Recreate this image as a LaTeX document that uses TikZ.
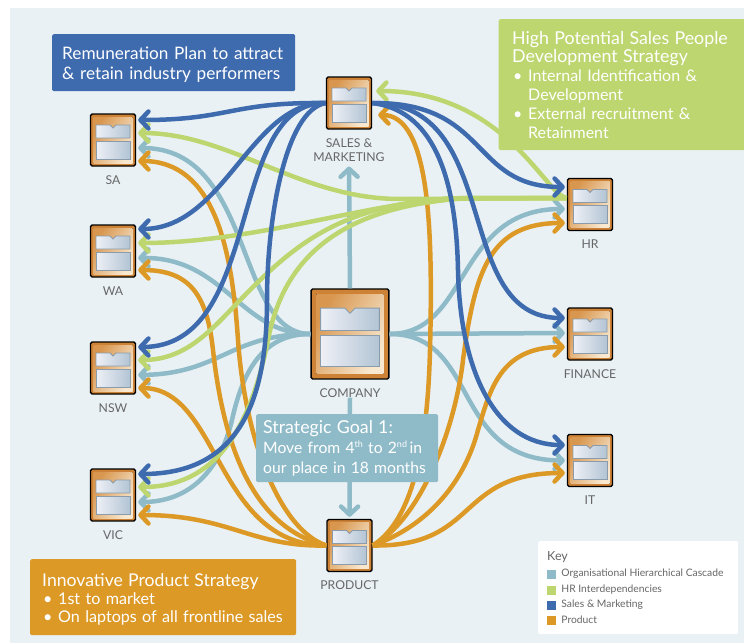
\documentclass[tikz,border=0pt]{standalone}
\usepackage{fontspec}
\setmainfont{Lato}
\usetikzlibrary{arrows.meta,positioning}
\definecolor{paneback}{HTML}{E9F1F5}
\definecolor{cascadecol}{HTML}{8FBBC9}
\definecolor{hrcol}{HTML}{BDD66F}
\definecolor{salescol}{HTML}{3E6AAE}
\definecolor{prodcol}{HTML}{DC9926}
\definecolor{labelcol}{HTML}{666666}
\definecolor{unitedge}{HTML}{CE8236}
\definecolor{glowa}{HTML}{D8964E}
\definecolor{glowb}{HTML}{F8E8D0}
\definecolor{panea}{HTML}{EEF0F6}
\definecolor{paneb}{HTML}{B3C4D4}
\definecolor{panerim}{HTML}{8A9CAB}
\tikzset{
  link/.style={line width=4.5pt,line cap=butt,shorten >=2pt,
    -{Straight Barb[length=8pt,width=17pt,round]}},
  cascade/.style={link,draw=cascadecol},
  hrlink/.style={link,draw=hrcol},
  saleslink/.style={link,draw=salescol},
  prodlink/.style={link,draw=prodcol},
  unitnode/.style={draw=black,line width=1.4pt,rounded corners=1.6pt,fill=unitedge,inner sep=0pt},
  unitglow/.style={left color=glowa,right color=glowb,shading angle=60},
  unitpane/.style={draw=panerim,line width=0.9pt,left color=panea,right color=paneb},
  unitlabel/.style={font=\fontsize{12.2}{14}\selectfont,text=labelcol,align=center,inner sep=0pt},
  notebox/.style={rounded corners=1.5pt,text=white,align=left,anchor=north west,inner ysep=0pt},
  keytext/.style={font=\fontsize{10.3}{11}\selectfont,text=labelcol,inner sep=0pt,anchor=west},
}
\newcommand{\unitbox}[5]{%
  \node[unitnode,minimum width=#4*45pt,minimum height=#4*52pt] (#1) at (#2,#3) {};
  \begin{scope}[shift={(#2,#3)},scale=#4]
    \fill[unitglow] (-19.5,-23) rectangle (19.5,23);
    \path[unitpane] (-17,-15) -- (-3,-15) -- (0,-12) -- (3,-15) -- (17,-15) -- (17,-2) -- (-17,-2) -- cycle;
    \path[unitpane] (-17,1) rectangle (17,19);
  \end{scope}
  \node[unitlabel,below=8.5pt of #1] (#1-label) {#5};
}
\newcommand{\bul}{\\\makebox[16pt][l]{\hspace{1pt}\textbullet}}
\newcommand{\cont}{\\\hspace*{16pt}}
\newcommand{\ordsup}[1]{\raisebox{5.5pt}{\fontsize{9}{9}\selectfont #1}}
\begin{document}
\begin{tikzpicture}[x=1pt,y=-1pt]
  \useasboundingbox (0,0) rectangle (744,643);
  \fill[paneback] (10,8) rectangle (744,643);

  \foreach \id/\px/\py/\txt in {sa/113/140/SA,wa/113/251/WA,nsw/113/368/NSW,vic/113/495/VIC,
      hr/590/204.5/HR,fin/590/334/FINANCE,it/590/460.5/IT,
      sm/349/103/{SALES \&\\MARKETING},prod/349.5/545.5/PRODUCT}
    \unitbox{\id}{\px}{\py}{1}{\txt};
  \unitbox{co}{350}{334}{1.73}{COMPANY};

  \draw[cascade,shorten >=5pt] (co.north) -- (sm-label.south);
  \draw[cascade] (co-label.south) -- (prod.north);
  \draw[cascade] (co.west) .. controls (235,334) and (255,148) .. ([yshift=-8pt]sa.east);
  \draw[cascade] (co.west) .. controls (240,334) and (225,257) .. ([yshift=-7pt]wa.east);
  \draw[cascade] (co.west) .. controls (230,334) and (220,374) .. ([yshift=-7pt]nsw.east);
  \draw[cascade] (co.west) .. controls (270,334) and (245,360) .. (232,420)
    .. controls (220,470) and (190,502) .. ([yshift=-7pt]vic.east);
  \draw[cascade] (co.east) .. controls (470,334) and (455,209) .. ([yshift=-4.5pt]hr.west);
  \draw[cascade] (co.east) -- ([yshift=1pt]fin.west);
  \draw[cascade] (co.east) .. controls (480,334) and (450,460) .. (it.west);

  \draw[prodlink] (prod.west) .. controls (280,530) and (245,440) .. (238,340)
    .. controls (232,250) and (215,161) .. ([yshift=-21pt]sa.east);
  \draw[prodlink] (prod.west) .. controls (260,530) and (225,460) .. (213,350)
    .. controls (207,295) and (190,270) .. ([yshift=-19pt]wa.east);
  \draw[prodlink] (prod.west) .. controls (215,545) and (220,388) .. ([yshift=-20pt]nsw.east);
  \draw[prodlink] (prod.west) .. controls (250,547) and (230,515) .. ([yshift=-20pt]vic.east);
  \draw[prodlink] (prod.east) .. controls (405,525) and (427,470) .. (430,350)
    .. controls (433,230) and (430,115) .. ([yshift=-12pt,xshift=4pt]sm.east);
  \draw[prodlink] (prod.east) .. controls (420,520) and (455,430) .. (463,360)
    .. controls (475,270) and (490,223) .. ([yshift=-18.5pt]hr.west);
  \draw[prodlink] (prod.east) .. controls (430,525) and (465,480) .. (478,430)
    .. controls (490,390) and (500,347) .. ([yshift=-13pt]fin.west);
  \draw[prodlink] (prod.east) .. controls (480,547) and (455,473) .. ([yshift=-12.5pt]it.west);

  \draw[hrlink] ([yshift=6.5pt]hr.west) .. controls (545,195) and (505,91) .. ([yshift=12pt,xshift=2pt]sm.east);
  \draw[hrlink] ([yshift=6.5pt]hr.west) -- (400,199) .. controls (300,199) and (230,133) .. ([yshift=7pt]sa.east);
  \draw[hrlink] ([yshift=6.5pt]hr.west) -- (470,198) .. controls (380,198) and (260,243) .. ([yshift=8pt]wa.east);
  \draw[hrlink] ([yshift=6.5pt]hr.west) -- (470,198) .. controls (350,200) and (300,240) .. (250,290)
    .. controls (215,325) and (190,360) .. ([yshift=8pt]nsw.east);
  \draw[hrlink] ([yshift=6.5pt]hr.west) -- (470,198) .. controls (350,205) and (285,250) .. (268,340)
    .. controls (250,430) and (215,487) .. ([yshift=8pt]vic.east);

  \draw[saleslink] (sm.west) .. controls (230,102) and (230,120) .. ([yshift=20pt]sa.east);
  \draw[saleslink] (sm.west) .. controls (250,102) and (225,229) .. ([yshift=22pt]wa.east);
  \draw[saleslink] (sm.west) .. controls (225,102) and (265,347) .. ([yshift=21pt]nsw.east);
  \draw[saleslink] (sm.west) .. controls (285,110) and (267,220) .. (267,300)
    .. controls (267,400) and (240,474) .. ([yshift=21pt]vic.east);
  \draw[saleslink] (sm.east) .. controls (490,102) and (470,187) .. ([yshift=17.5pt]hr.west);
  \draw[saleslink] (sm.east) .. controls (505,102) and (450,318) .. ([yshift=16pt]fin.west);
  \draw[saleslink] (sm.east) .. controls (430,110) and (456,170) .. (458,270)
    .. controls (460,370) and (495,445) .. ([yshift=15.5pt]it.west);

  \node[notebox,fill=salescol,minimum width=243pt,minimum height=57pt,text width=223pt,inner xsep=10pt,
    font=\fontsize{17.2}{20}\selectfont] (remun) at (52,34) {\rule{0pt}{17pt}Remuneration Plan to attract\\\& retain industry performers};
  \node[notebox,fill=hrcol,minimum width=242.5pt,minimum height=131pt,text width=226pt,inner xsep=13.5pt,
    font=\fontsize{16}{18.8}\selectfont] (talent) at (498.5,19) {{\fontsize{17.8}{19}\selectfont High Potential Sales People\\Development Strategy}
    \bul Internal Identification \&\cont Development\bul External recruitment \&\cont Retainment};
  \node[notebox,fill=prodcol,minimum width=266pt,minimum height=76pt,text width=242pt,inner xsep=12pt,
    font=\fontsize{16.1}{18}\selectfont] (innov) at (30,559) {{\fontsize{17.6}{18}\selectfont\rule{0pt}{17pt}Innovative Product Strategy}
    \bul 1st to market\bul On laptops of all frontline sales};
  \node[notebox,fill=cascadecol,minimum width=182pt,minimum height=68pt,text width=168pt,inner xsep=7pt,
    font=\fontsize{15.7}{20}\selectfont] (goal) at (256,414) {{\fontsize{17.8}{20}\selectfont Strategic Goal 1:}\\
    Move from 4\ordsup{th} to 2\ordsup{nd}\,in\\our place in 18 months};

  \node[fill=white,rounded corners=1.5pt,minimum width=200pt,minimum height=93pt,anchor=north west] (keybox) at (538,541) {};
  \node[keytext,font=\fontsize{12.5}{14}\selectfont] (keyhead) at (547,557) {Key};
  \foreach \n/\col/\py/\txt in {a/cascadecol/574/Organisational Hierarchical Cascade,b/hrcol/590/HR Interdependencies,
      c/salescol/605/Sales \& Marketing,d/prodcol/620/Product} {
    \node[fill=\col,minimum size=9pt,inner sep=0pt] (sw\n) at (551.5,\py) {};
    \node[keytext,right=5pt of sw\n] (key\n) {\txt};
  }
\end{tikzpicture}
\end{document}
